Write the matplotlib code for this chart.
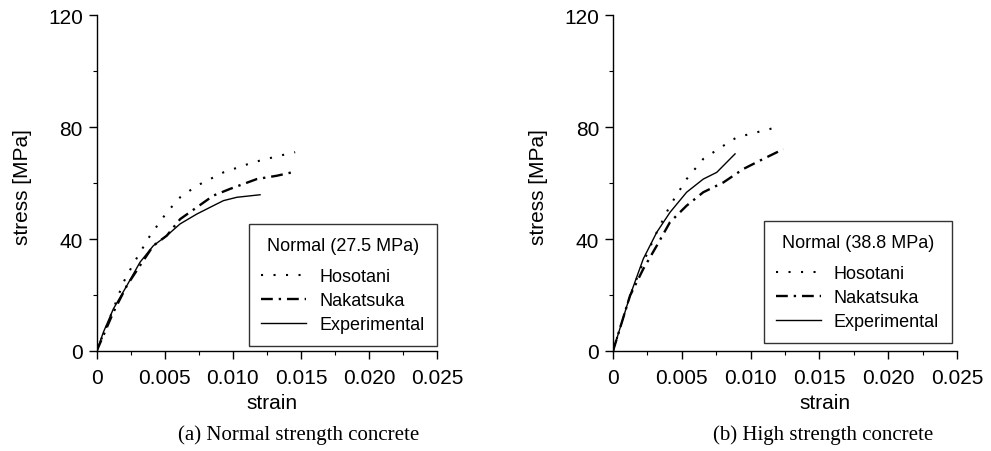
import matplotlib
matplotlib.use("Agg")
import matplotlib.pyplot as plt
from matplotlib.ticker import MultipleLocator, FixedLocator

plt.rcParams['font.family'] = ['Liberation Sans', 'DejaVu Sans']

# ---- data (strain, stress MPa) ----
a_hos_x = [0, 0.00122, 0.00196, 0.00269, 0.00392, 0.00515, 0.00613, 0.00735, 0.00931, 0.01151, 0.01348, 0.01458]
a_hos_y = [0, 15.0, 24.5, 31.1, 41.2, 49.5, 54.9, 59.0, 63.8, 67.4, 69.8, 71.0]
a_nak_x = [0, 0.00122, 0.00221, 0.00318, 0.00416, 0.00515, 0.00613, 0.00735, 0.00857, 0.0098, 0.01176, 0.01324, 0.01434]
a_nak_y = [0, 13.8, 23.3, 30.5, 37.6, 41.2, 47.1, 51.3, 55.5, 57.9, 61.4, 62.6, 63.8]
a_exp_x = [0, 0.00049, 0.00122, 0.00221, 0.00318, 0.00416, 0.00515, 0.00613, 0.00735, 0.00857, 0.00931, 0.0103, 0.0120]
a_exp_y = [0, 6.7, 15.0, 23.3, 31.7, 37.6, 41.2, 45.4, 48.9, 51.9, 53.7, 54.9, 55.8]

b_hos_x = [0, 0.00124, 0.0022, 0.00318, 0.00414, 0.00535, 0.00656, 0.00802, 0.00899, 0.01044, 0.0119]
b_hos_y = [0, 19.8, 31.7, 42.4, 51.9, 61.4, 68.6, 73.3, 76.3, 78.1, 79.9]
b_nak_x = [0, 0.00124, 0.0022, 0.00318, 0.00414, 0.00535, 0.00656, 0.00802, 0.00947, 0.01092, 0.01238]
b_nak_y = [0, 19.8, 29.3, 37.6, 46.0, 51.9, 56.7, 60.2, 65.0, 68.6, 72.1]
b_exp_x = [0, 0.00124, 0.0022, 0.00318, 0.00414, 0.00535, 0.00656, 0.00754, 0.00887]
b_exp_y = [0, 19.8, 32.9, 42.4, 49.5, 56.7, 61.4, 63.8, 70.4]

x_ticks = [0, 0.005, 0.010, 0.015, 0.020, 0.025]
x_ticklabels = ['0', '0.005', '0.010', '0.015', '0.020', '0.025']
y_ticks = [0, 40, 80, 120]
y_ticklabels = ['0', '40', '80', '120']
series_names = ['Hosotani', 'Nakatsuka', 'Experimental']
legend_titles = ['Normal (27.5 MPa)', 'Normal (38.8 MPa)']
captions = ['(a) Normal strength concrete', '(b) High strength concrete']

W, H = 991, 452
fig = plt.figure(figsize=(W / 100, H / 100), dpi=100)

panels = [
    dict(rect=(96.7, 16, 437, 352), data=[(a_hos_x, a_hos_y), (a_nak_x, a_nak_y), (a_exp_x, a_exp_y)],
         title=legend_titles[0], cap=captions[0], capx=299, xlab=0.516, leg=(1.0, 0.015)),
    dict(rect=(613, 16, 957, 352), data=[(b_hos_x, b_hos_y), (b_nak_x, b_nak_y), (b_exp_x, b_exp_y)],
         title=legend_titles[1], cap=captions[1], capx=823, xlab=0.616, leg=(0.985, 0.024)),
]

styles = [
    dict(linestyle=(0, (1, 5)), lw=1.5),
    dict(linestyle=(0, (5, 2.5, 1, 2.5)), lw=1.7),
    dict(linestyle='-', lw=1.0),
]

for p in panels:
    x0, y0, x1, y1 = p['rect']
    ax = fig.add_axes([x0 / W, 1 - y1 / H, (x1 - x0) / W, (y1 - y0) / H])
    for (xs, ys), st, name in zip(p['data'], styles, series_names):
        ax.plot(xs, ys, color='black', label=name, **st)
    ax.set_xlim(0, 0.025)
    ax.set_ylim(0, 120)
    for s in ['top', 'right']:
        ax.spines[s].set_visible(False)
    for s in ['left', 'bottom']:
        ax.spines[s].set_linewidth(1.0)
    ax.xaxis.set_major_locator(FixedLocator(x_ticks))
    ax.set_xticklabels(x_ticklabels)
    ax.xaxis.set_minor_locator(MultipleLocator(0.0025))
    ax.yaxis.set_major_locator(FixedLocator(y_ticks))
    ax.set_yticklabels(y_ticklabels)
    ax.yaxis.set_minor_locator(MultipleLocator(20))
    ax.tick_params(which='major', direction='out', length=6, width=1.0, labelsize=15, colors='black')
    ax.tick_params(axis='x', which='major', pad=6)
    ax.tick_params(axis='y', which='major', pad=4)
    ax.tick_params(which='minor', direction='out', length=3, width=0.8)
    ax.set_xlabel('strain', fontsize=15)
    ax.xaxis.set_label_coords(p['xlab'], -0.125)
    ax.set_ylabel('stress [MPa]', fontsize=15)
    ax.yaxis.set_label_coords(-0.19, 0.49)
    leg = ax.legend(title=p['title'], loc='lower right', bbox_to_anchor=p['leg'],
                    fontsize=13, title_fontsize=13, frameon=True, fancybox=False,
                    handlelength=2.5, handletextpad=0.7, labelspacing=0.4,
                    borderpad=0.7, borderaxespad=0)
    leg.get_frame().set_edgecolor('black')
    leg.get_frame().set_linewidth(1.0)
    leg._legend_box.sep = 10
    fig.text(p['capx'] / W, 1 - 435 / H, p['cap'], ha='center', va='center',
             fontsize=15, family=['Liberation Serif', 'DejaVu Serif'])

fig.savefig('out.png', dpi=100, facecolor='white')
